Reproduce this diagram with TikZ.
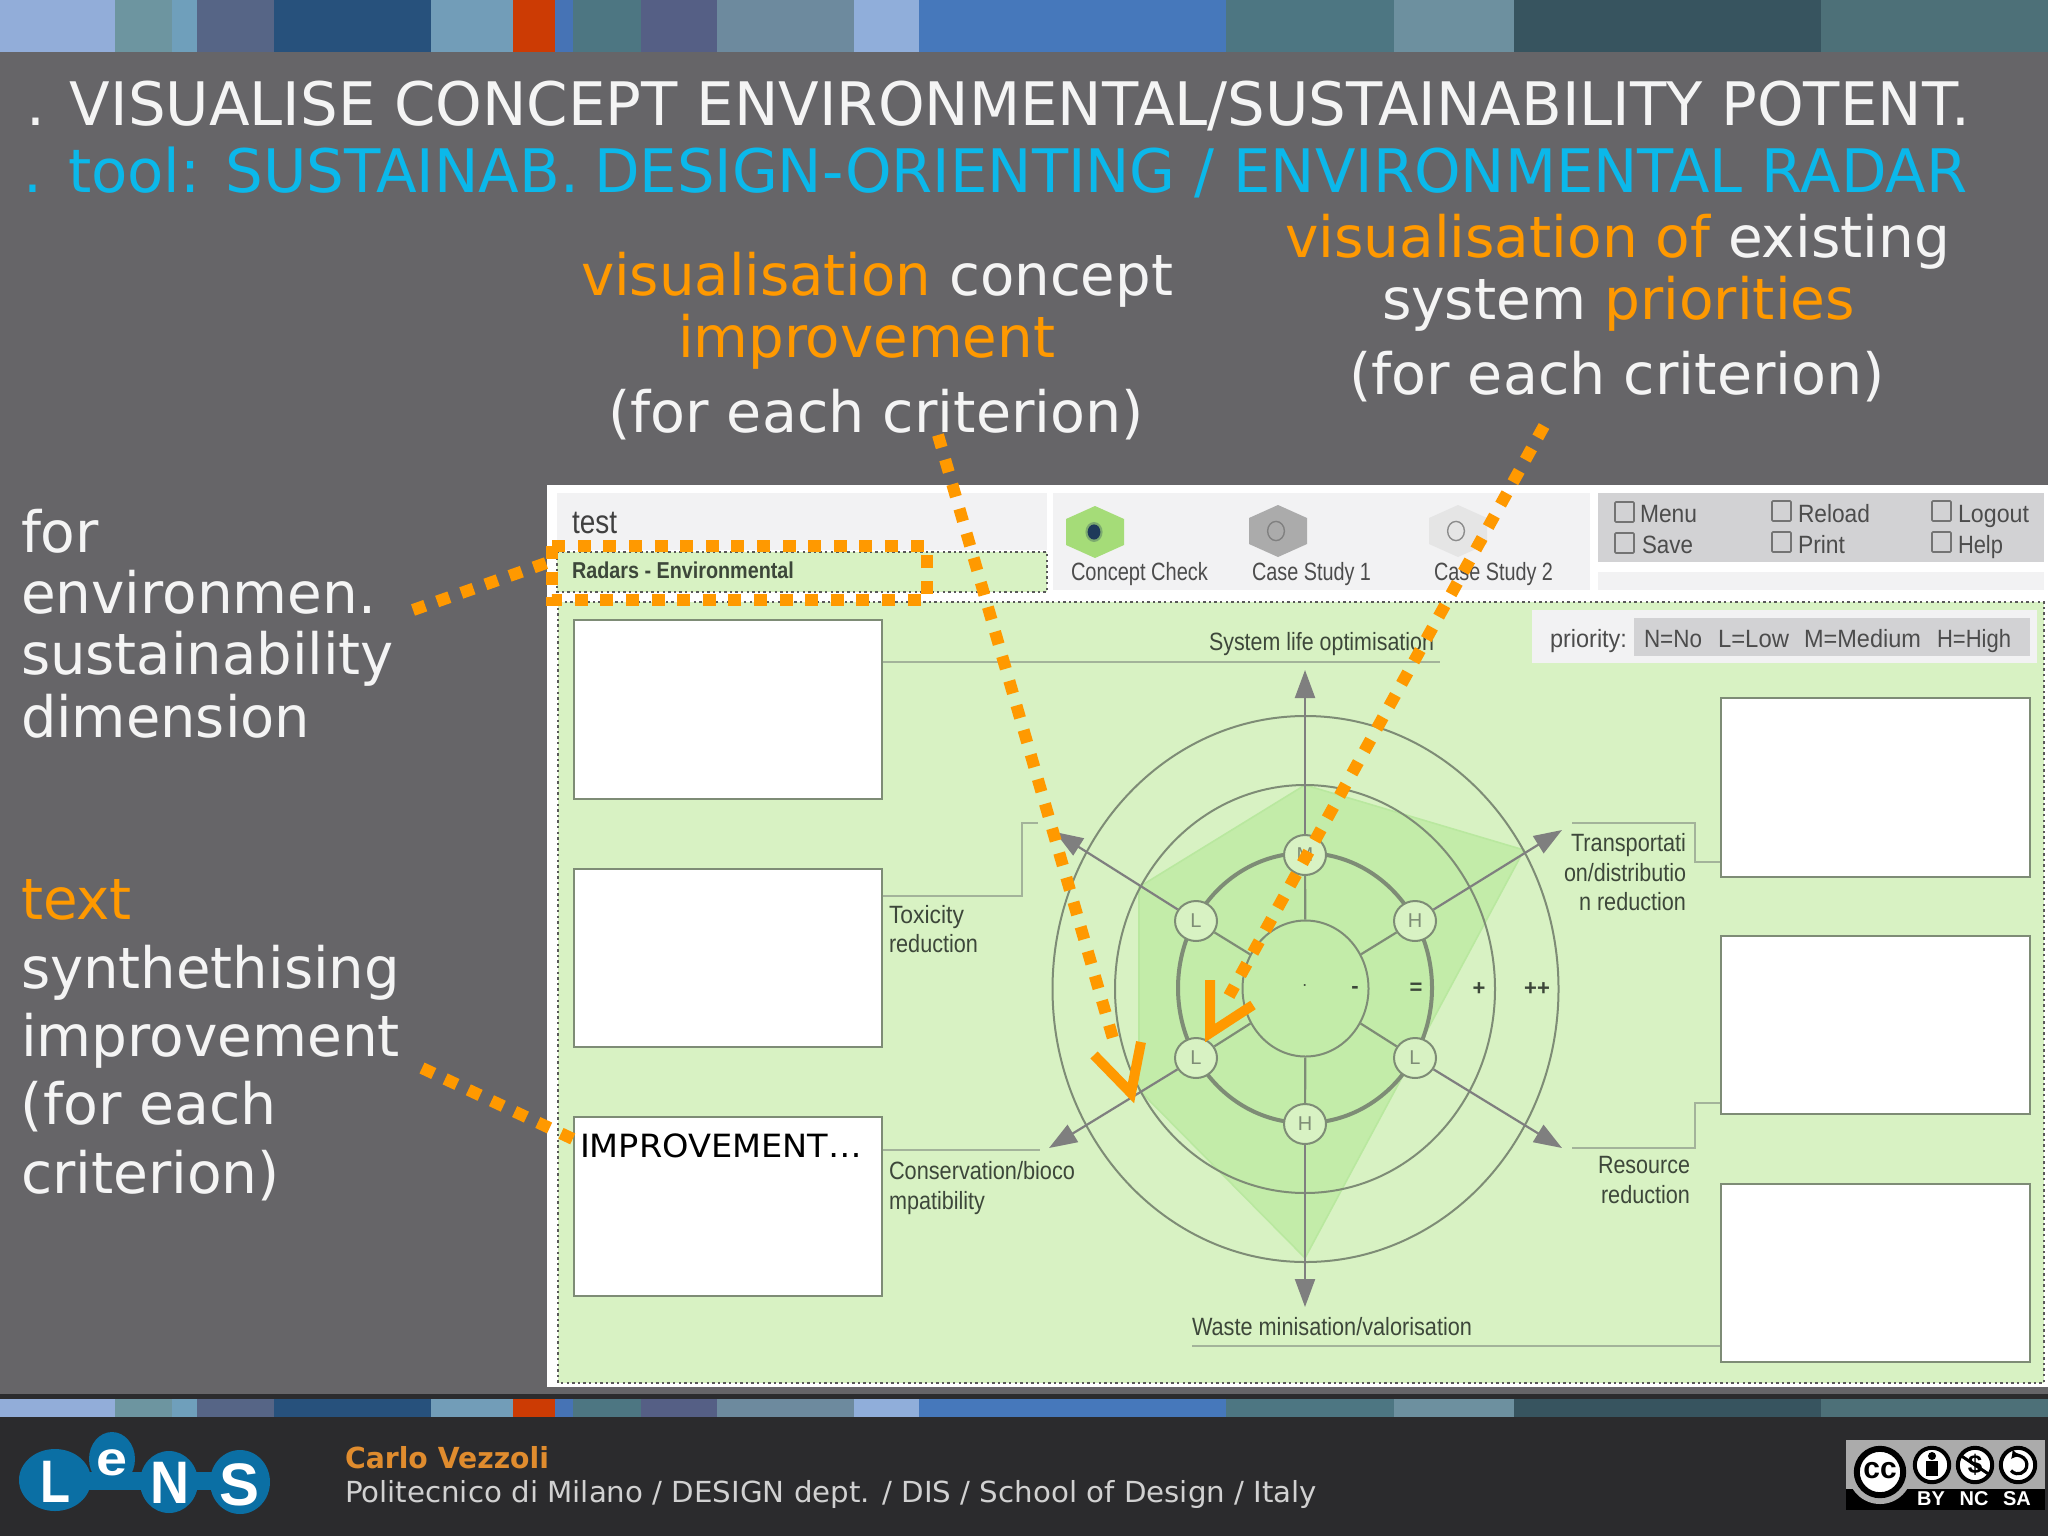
\documentclass[tikz,border=0pt]{standalone}
\usepackage{fontspec}
\usepackage{graphicx}
\usetikzlibrary{arrows.meta,shapes.geometric,calc}
\setmainfont{DejaVu Sans}
\newfontfamily\arial{Liberation Sans}
\newdimen\pxu \pxu=0.5pt
\newcommand\fw[2]{\resizebox{#1\pxu}{\height}{#2}}
\definecolor{bgg}{HTML}{666568}
\definecolor{dark}{HTML}{2B2B2D}
\definecolor{wtxt}{HTML}{F4F4F4}
\definecolor{cyn}{HTML}{0BB8EA}
\definecolor{org}{HTML}{FF9900}
\definecolor{pan}{HTML}{D8F2C3}
\definecolor{poly}{HTML}{C3ECA9}
\definecolor{polyl}{HTML}{B9E89F}
\definecolor{lgr}{HTML}{F2F2F3}
\definecolor{mgr}{HTML}{D2D2D4}
\definecolor{rline}{HTML}{7E8C76}
\definecolor{arw}{HTML}{7F7F7F}
\definecolor{rtxt}{HTML}{3D473A}
\definecolor{conn}{HTML}{A3B39A}
\definecolor{logoc}{HTML}{0B6FA4}
\definecolor{hexg}{HTML}{A5DC78}
\definecolor{navy}{HTML}{1F3A5A}
\newcommand\stripb[3]{\definecolor{tmpc}{HTML}{#3}\fill[tmpc] (#1,0) rectangle (#2,52); \fill[tmpc] (#1,1399) rectangle (#2,1417);}
\tikzset{
 tx/.style={inner sep=0pt,outer sep=0pt,anchor=base west},
 bigw/.style={tx,text=wtxt,font=\fontsize{28.5}{30}\selectfont},
 titl/.style={tx,font=\fontsize{30}{36}\selectfont},
 rad/.style={tx,text=rtxt,font=\arial\fontsize{12.5}{14}\selectfont},
 ui/.style={tx,text=black!70,font=\arial\fontsize{12.5}{14}\selectfont},
 wbox/.style={draw=rline,fill=white,line width=1pt,rectangle,inner sep=0pt},
 circn/.style={ellipse,draw=rline,fill=pan,line width=1pt,minimum width=21pt,minimum height=20pt,inner sep=0pt,text=rline,font=\arial\fontsize{10}{12}\selectfont},
 ring/.style={ellipse,draw=rline,line width=1pt,inner sep=0pt},
 conline/.style={draw=conn,line width=1pt},
 axl/.style={draw=rline,line width=1.1pt},
 axa/.style={draw=arw,line width=1.1pt,-{Triangle[length=14pt,width=10pt,color=arw]}},
 odash/.style={draw=org,line width=6pt,dash pattern=on 6.5pt off 6.3pt},
 vee/.style={draw=org,line width=5pt,miter limit=10},
 dotb/.style={draw=black!65,line width=1.2pt,dash pattern=on 1.2pt off 1.6pt},
 cbx/.style={draw=black!55,line width=.8pt,rounded corners=.5pt},
 ccl/.style={inner sep=0pt,text=white,font=\arial\bfseries\fontsize{10}{12}\selectfont},
 logl/.style={tx,text=white,font=\arial\bfseries\fontsize{30}{32}\selectfont},
 rsym/.style={inner sep=0pt,text=rtxt,font=\arial\bfseries\fontsize{11}{13}\selectfont},
}
\newcommand\wb[5]{\node[wbox,minimum width={(#4-#2)*0.5pt},minimum height={(#5-#3)*0.5pt}] (#1) at ({(#2+#4)/2},{(#3+#5)/2}) {};}
\newcommand\hexa[3]{\fill[#3] (#1,#2-26) -- (#1+29,#2-13) -- (#1+29,#2+13) -- (#1,#2+26) -- (#1-29,#2+13) -- (#1-29,#2-13) -- cycle;}
\begin{document}
\begin{tikzpicture}[x=0.5pt,y=-0.5pt]
\useasboundingbox (0,0) rectangle (2048,1536);
\fill[bgg] (0,0) rectangle (2048,1394);
\fill[dark] (0,1394) rectangle (2048,1536);
% colour strips
\stripb{0}{115}{92ADD9}
\stripb{115}{172}{6D95A0}
\stripb{172}{197}{6F9FBB}
\stripb{197}{274}{566586}
\stripb{274}{431}{27517C}
\stripb{431}{513}{729DB8}
\stripb{513}{555}{CC3B04}
\stripb{555}{573}{4673B5}
\stripb{573}{641}{4D7682}
\stripb{641}{717}{555F85}
\stripb{717}{854}{6D8A9E}
\stripb{854}{919}{90AEDA}
\stripb{919}{1226}{4678BB}
\stripb{1226}{1394}{4D7682}
\stripb{1394}{1514}{6D909F}
\stripb{1514}{1821}{37545F}
\stripb{1821}{2048}{4D7078}
% titles
\node[titl,text=wtxt] (t1) at (26,126) {\fw{1944}{. VISUALISE CONCEPT ENVIRONMENTAL/SUSTAINABILITY POTENT.}};
\node[titl,text=cyn] (t2) at (24,192) {\fw{555}{. tool: SUSTAINAB.}};
\node[titl,text=cyn] (t3) at (594,192) {\fw{1373}{DESIGN-ORIENTING / ENVIRONMENTAL RADAR}};
% upper captions
\node[bigw] (a1) at (581,295) {\fw{592}{\textcolor{org}{visualisation} concept}};
\node[bigw,text=org] (a2) at (678,357) {\fw{377}{improvement}};
\node[bigw] (a3) at (608,432) {\fw{536}{(for each criterion)}};
\node[bigw] (b1) at (1285,257) {\fw{665}{\textcolor{org}{visualisation of} existing}};
\node[bigw] (b2) at (1382,319) {\fw{473}{system \textcolor{org}{priorities}}};
\node[bigw] (b3) at (1349,394) {\fw{536}{(for each criterion)}};
% left captions
\node[bigw] (c1) at (21,552) {\fw{78}{for}};
\node[bigw] (c2) at (21,613) {\fw{355}{environmen.}};
\node[bigw] (c3) at (21,674) {\fw{373}{sustainability}};
\node[bigw] (c4) at (21,737) {\fw{289}{dimension}};
\node[bigw,text=org] (d1) at (21,919) {\fw{111}{text}};
\node[bigw] (d2) at (21,988) {\fw{379}{synthethising}};
\node[bigw] (d3) at (21,1056) {\fw{379}{improvement}};
\node[bigw] (d4) at (21,1124) {\fw{256}{(for each}};
\node[bigw] (d5) at (21,1193) {\fw{259}{criterion)}};
% screen
\fill[white] (547,485) rectangle (2048,1387);
\fill[lgr] (557,493) rectangle (1047,550);
\fill[pan] (557,552) rectangle (1047,592);
\draw[dotb] (557,552) rectangle (1047,592);
\fill[lgr] (1053,493) rectangle (1590,590);
\fill[mgr] (1598,493) rectangle (2044,562);
\fill[lgr] (1598,572) rectangle (2044,590);
\fill[pan] (558,602) rectangle (2044,1383);
\draw[dotb] (558,602) rectangle (2044,1383);
\node[ui,font=\arial\fontsize{16.5}{18}\selectfont,text=black!75] (test) at (572,533) {\fw{45}{test}};
\node[tx,text=rtxt,font=\arial\bfseries\fontsize{11.5}{13}\selectfont] (rad) at (572,578) {\fw{222}{Radars - Environmental}};
% hexagons
\hexa{1095}{532}{hexg}
\hexa{1278}{531}{black!33}
\hexa{1458}{531}{black!10}
\fill[hexg!70!navy] (1094,532) ellipse (4.3pt and 5pt);
\fill[navy] (1094,532) ellipse (3.2pt and 3.8pt);
\draw[black!50,line width=.7pt] (1276,531) ellipse (4.2pt and 4.8pt);
\draw[black!45,line width=.7pt] (1456,531) ellipse (4.2pt and 4.8pt);
\node[ui] (h1) at (1071,580) {\fw{137}{Concept Check}};
\node[ui] (h2) at (1252,580) {\fw{119}{Case Study 1}};
\node[ui] (h3) at (1434,580) {\fw{119}{Case Study 2}};
% menu
\foreach \xx/\yy in {1615/502,1615/533,1772/501,1772/532,1932/501,1932/532}{\draw[cbx] (\xx,\yy) rectangle (\xx+19,\yy+20);}
\node[ui] (m1) at (1640,522) {\fw{57}{Menu}};
\node[ui] (m2) at (1642,553) {\fw{51}{Save}};
\node[ui] (m3) at (1798,522) {\fw{72}{Reload}};
\node[ui] (m4) at (1798,553) {\fw{47}{Print}};
\node[ui] (m5) at (1958,522) {\fw{71}{Logout}};
\node[ui] (m6) at (1958,553) {\fw{45}{Help}};
% legend
\fill[lgr] (1532,610) rectangle (2037,663);
\fill[mgr] (1634,618) rectangle (2030,656);
\node[ui] (p0) at (1550,647) {\fw{77}{priority:}};
\node[ui] (p1) at (1644,647) {\fw{58}{N=No}};
\node[ui] (p2) at (1718,647) {\fw{71}{L=Low}};
\node[ui] (p3) at (1804,647) {\fw{117}{M=Medium}};
\node[ui] (p4) at (1937,647) {\fw{74}{H=High}};
% white boxes
\wb{lb1}{574}{620}{882}{799}
\wb{lb2}{574}{869}{882}{1047}
\wb{lb3}{574}{1117}{882}{1296}
\wb{rb1}{1721}{698}{2030}{877}
\wb{rb2}{1721}{936}{2030}{1114}
\wb{rb3}{1721}{1184}{2030}{1362}
% leader lines
\coordinate (e1) at (1440,662);
\coordinate (k2) at (1022,896);
\coordinate (e2) at (1038,823);
\coordinate (e3) at (1040,1150);
\coordinate (k4) at (1695,862);
\coordinate (e4) at (1572,823);
\coordinate (k5) at (1695,1103);
\coordinate (e5) at (1572,1148);
\coordinate (e6) at (1192,1346);
\draw[conline] (lb1.east |- e1) -- (e1);
\draw[conline] (lb2.east |- k2) -- (k2) -- (k2 |- e2) -- (e2);
\draw[conline] (lb3.east |- e3) -- (e3);
\draw[conline] (rb1.west |- k4) -- (k4) -- (k4 |- e4) -- (e4);
\draw[conline] (rb2.west |- k5) -- (k5) -- (k5 |- e5) -- (e5);
\draw[conline] (rb3.west |- e6) -- (e6);
% radar polygon
\fill[poly,draw=polyl,line width=.8pt] (1305,785) -- (1524,850) -- (1305,1258) -- (1139,1090) -- (1139,887) -- cycle;
% rings
\node[ring,minimum width=253pt,minimum height=273pt] (r3) at (1305.5,989) {};
\node[ring,minimum width=190pt,minimum height=204pt] (r2) at (1305,989) {};
\node[ring,line width=2pt,minimum width=127pt,minimum height=135pt] (r1) at (1305,988) {};
\node[ring,fill=poly,minimum width=63pt,minimum height=68pt] (core) at (1305.5,988.5) {};
% axis tips and level nodes
\coordinate (tT) at (1305,670);
\coordinate (tUR) at (1562,830);
\coordinate (tLR) at (1562,1148);
\coordinate (tB) at (1305,1307);
\coordinate (tLL) at (1049,1148);
\coordinate (tUL) at (1055,832);
\node[circn] (n1) at (1305,855) {M};
\node[circn] (n2) at (1415,921) {H};
\node[circn] (n3) at (1415,1058) {L};
\node[circn] (n4) at (1305,1124) {H};
\node[circn] (n5) at (1196,1058) {L};
\node[circn] (n6) at (1196,921) {L};
\foreach \nn/\tt in {n1/tT,n2/tUR,n3/tLR,n4/tB,n5/tLL,n6/tUL}{
 \draw[axl] (core) -- (\nn);
 \draw[axa] (\nn) -- (\tt);
}
\node[rsym] (s0) at (1305,987) {\fontsize{6}{6}\selectfont·};
\node[rsym] (s1) at (1355,990) {-};
\node[rsym] (s2) at (1416,989) {=};
\node[rsym] (s3) at (1479,989) {+};
\node[rsym] (s4) at (1537,989) {++};
% radar labels
\node[rad] (l1) at (1209,650) {\fw{225}{System life optimisation}};
\node[rad] (l2a) at (889,923) {\fw{75}{Toxicity}};
\node[rad] (l2b) at (889,952) {\fw{89}{reduction}};
\node[rad] (l3a) at (889,1179) {\fw{186}{Conservation/bioco}};
\node[rad] (l3b) at (889,1209) {\fw{96}{mpatibility}};
\node[rad] (l4a) at (1571,851) {\fw{115}{Transportati}};
\node[rad] (l4b) at (1564,881) {\fw{122}{on/distributio}};
\node[rad] (l4c) at (1579,910) {\fw{107}{n reduction}};
\node[rad] (l5a) at (1598,1173) {\fw{92}{Resource}};
\node[rad] (l5b) at (1601,1203) {\fw{89}{reduction}};
\node[rad] (l6) at (1192,1335) {\fw{280}{Waste minisation/valorisation}};
\node[tx,text=black,font=\fontsize{16}{18}\selectfont] (imp) at (580,1157) {\fw{282}{IMPROVEMENT…}};
% orange overlays
\coordinate (ra) at (552,546);
\coordinate (rb) at (927,600);
\draw[odash] (ra) rectangle (rb);
\coordinate (f1) at (413,610);
\coordinate (f2) at (549,562);
\draw[odash] (f1) -- (f2);
\coordinate (g1) at (422,1068);
\draw[odash] (g1) -- (lb3.west |- 0,1139);
\coordinate (h1a) at (938,435);
\coordinate (h1b) at (1114,1042);
\draw[odash] (h1a) -- (h1b);
\coordinate (h2a) at (1544,426);
\coordinate (h2b) at (1229,996);
\draw[odash] (h2a) -- (h2b);
\draw[vee] (1094,1055) -- (1131,1093) -- (1141,1042);
\draw[vee] (1210,980) -- (1210,1033) -- (1253,1005);
% footer
\node[tx,text={rgb,255:red,224;green,140;blue,46},font=\bfseries\fontsize{14.5}{16}\selectfont] (f3) at (345,1468) {\fw{204}{Carlo Vezzoli}};
\node[tx,text=black!18,font=\fontsize{14.5}{16}\selectfont] (f4) at (345,1502) {\fw{972}{Politecnico di Milano / DESIGN dept. / DIS / School of Design / Italy}};
% logo
\fill[logoc] (60,1472) rectangle (240,1490);
\fill[logoc] (55,1480) ellipse (18pt and 15.5pt);
\fill[logoc] (112,1459) ellipse (11.5pt and 13.5pt);
\fill[logoc] (169,1482) ellipse (14.5pt and 15.5pt);
\fill[logoc] (240,1482) ellipse (15pt and 16pt);
\node[logl] (ll) at (40,1502) {\fw{30}{L}};
\node[logl,font=\arial\bfseries\fontsize{24}{26}\selectfont] (le) at (96,1475) {\fw{31}{e}};
\node[logl] (ln) at (150,1503) {\fw{39}{N}};
\node[logl] (ls) at (219,1505) {\fw{40}{S}};
% cc badge
\fill[black!33] (1846,1440) rectangle (2045,1489);
\fill[black] (1846,1489) rectangle (2045,1510);
\fill[black!33] (1880,1472) circle (16pt);
\fill[white,draw=black,line width=3pt] (1880,1472) circle (11.6pt);
\node[inner sep=0pt,text=black,font=\arial\bfseries\fontsize{15}{16}\selectfont] (cc) at (1880,1471) {cc};
\fill[white,draw=black,line width=2pt] (1932,1465) circle (8.6pt);
\fill[white,draw=black,line width=2pt] (1975,1465) circle (8.6pt);
\fill[white,draw=black,line width=2pt] (2018,1465) circle (8.6pt);
\fill[black] (1932,1456) circle (2pt);
\fill[black] (1926,1461) rectangle (1938,1476);
\node[inner sep=0pt,text=black,font=\arial\bfseries\fontsize{13}{14}\selectfont] (nc) at (1975,1465) {\$};
\draw[black,line width=1.5pt] (1960,1455) -- (1990,1475);
\draw[black,line width=1.6pt,{Latex[length=4pt,width=5pt]}-] (2011,1459) arc (140:-140:4.5pt);
\node[ccl] (by) at (1931,1499) {BY};
\node[ccl] (ncl) at (1974,1499) {NC};
\node[ccl] (sa) at (2017,1499) {SA};
\end{tikzpicture}
\end{document}
